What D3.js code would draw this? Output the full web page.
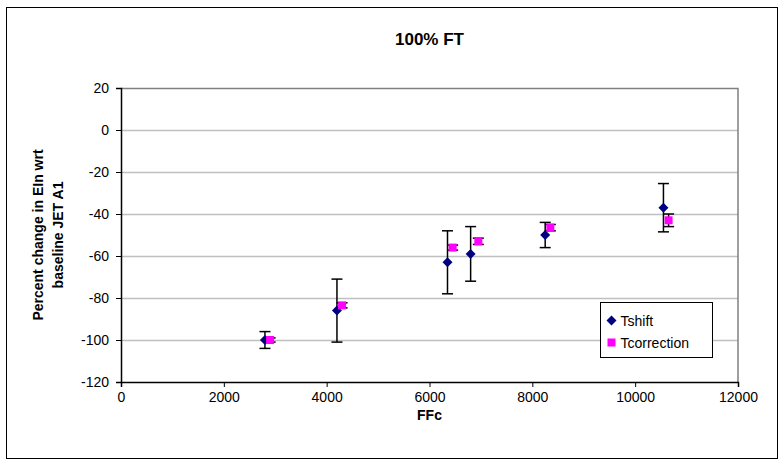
<!DOCTYPE html>
<html>
<head>
<meta charset="utf-8">
<script src="https://cdn.jsdelivr.net/npm/d3@7"></script>
<style>
  body { margin: 0; background: #fff; }
  svg { font-family: "Liberation Sans", Arial, sans-serif; }
</style>
</head>
<body>
<div id="chart"></div>
<script>
// Data
const tshiftX = [2800, 4200, 6350, 6800, 8250, 10550];
const tshiftY = [-100, -86, -63, -59, -50, -37];
const tshiftErr = [4, 15, 15, 13, 6, 11.5];

const tcorrX = [2900, 4300, 6450, 6950, 8350, 10650];
const tcorrY = [-100, -83.5, -56, -53, -46.5, -43];
const tcorrErr = [1, 1.2, 1.2, 1.5, 1.5, 3];

const xTicks = [0, 2000, 4000, 6000, 8000, 10000, 12000];
const yTicks = [20, 0, -20, -40, -60, -80, -100, -120];

const width = 782;
const height = 465;
const margin = { top: 88, right: 44, bottom: 83, left: 121 };
const innerWidth = width - margin.left - margin.right;
const innerHeight = height - margin.top - margin.bottom;

const svg = d3.select('#chart')
    .append('svg')
    .attr('width', width)
    .attr('height', height);

// Outer chart border
svg.append('rect')
    .attr('x', 6.5).attr('y', 7.5)
    .attr('width', 771).attr('height', 451)
    .attr('fill', '#fff')
    .attr('stroke', '#000')
    .attr('stroke-width', 1);

const chart = svg.append('g')
    .attr('transform', `translate(${margin.left},${margin.top})`);

const xScale = d3.scaleLinear().domain([0, 12000]).range([0, innerWidth]);
const yScale = d3.scaleLinear().domain([-120, 20]).range([innerHeight, 0]);

// Gridlines
chart.selectAll('.grid')
    .data(yTicks.filter(d => d !== 20 && d !== -120))
    .enter()
    .append('line')
    .attr('x1', 0).attr('x2', innerWidth)
    .attr('y1', d => Math.round(yScale(d)) + 0.5)
    .attr('y2', d => Math.round(yScale(d)) + 0.5)
    .attr('stroke', '#c0c0c0')
    .attr('stroke-width', 1.5);

// Plot area border (top and right)
chart.append('path')
    .attr('d', `M0,0.5H${innerWidth}V${innerHeight}`)
    .attr('fill', 'none')
    .attr('stroke', '#808080')
    .attr('stroke-width', 1.5);

// Axes (plain hyphen minus, like the original)
const fmt = d => String(d);
const xAxis = chart.append('g')
    .attr('transform', `translate(0,${innerHeight})`)
    .call(d3.axisBottom(xScale).tickValues(xTicks).tickSize(5).tickPadding(5).tickFormat(fmt));
const yAxis = chart.append('g')
    .call(d3.axisLeft(yScale).tickValues(yTicks).tickSize(5).tickPadding(7).tickFormat(fmt));

[xAxis, yAxis].forEach(ax => {
    ax.select('.domain').attr('stroke', '#000').attr('stroke-width', 1.5);
    ax.selectAll('.tick line').attr('stroke', '#000');
    ax.selectAll('.tick text')
        .attr('fill', '#000')
        .style('font-size', '14px')
        .style('font-family', '"Liberation Sans", Arial, sans-serif');
});

// Error bars
function errorBars(xs, ys, errs, capW) {
    const g = chart.append('g');
    xs.forEach((x, i) => {
        const cx = xScale(x);
        const yTop = yScale(ys[i] + errs[i]);
        const yBot = yScale(ys[i] - errs[i]);
        g.append('line')
            .attr('x1', cx).attr('x2', cx).attr('y1', yTop).attr('y2', yBot)
            .attr('stroke', '#000').attr('stroke-width', 1.5);
        [yTop, yBot].forEach(yy => {
            g.append('line')
                .attr('x1', cx - capW / 2).attr('x2', cx + capW / 2)
                .attr('y1', yy).attr('y2', yy)
                .attr('stroke', '#000').attr('stroke-width', 1.5);
        });
    });
}

const diamond = 'M0,-5L5,0L0,5L-5,0Z';

errorBars(tshiftX, tshiftY, tshiftErr, 11);
chart.selectAll('.tshift')
    .data(tshiftX.map((x, i) => [x, tshiftY[i]]))
    .enter()
    .append('path')
    .attr('d', diamond)
    .attr('transform', d => `translate(${xScale(d[0])},${yScale(d[1])})`)
    .attr('fill', '#000080');

errorBars(tcorrX, tcorrY, tcorrErr, 11);
chart.selectAll('.tcorr')
    .data(tcorrX.map((x, i) => [x, tcorrY[i]]))
    .enter()
    .append('rect')
    .attr('x', d => xScale(d[0]) - 4)
    .attr('y', d => yScale(d[1]) - 4)
    .attr('width', 8).attr('height', 8)
    .attr('fill', '#ff00ff');

// Legend
const legend = svg.append('g').attr('transform', 'translate(600.5,302.5)');
legend.append('rect')
    .attr('width', 112).attr('height', 55)
    .attr('fill', '#fff').attr('stroke', '#000').attr('stroke-width', 1);
legend.append('path').attr('d', diamond).attr('transform', 'translate(11,18)').attr('fill', '#000080');
legend.append('rect').attr('x', 7).attr('y', 36).attr('width', 8).attr('height', 8).attr('fill', '#ff00ff');
legend.append('text').attr('x', 20).attr('y', 23).style('font-size', '14px').text('Tshift');
legend.append('text').attr('x', 20).attr('y', 45).style('font-size', '14px').text('Tcorrection');

// Title
svg.append('text')
    .attr('x', margin.left + innerWidth / 2)
    .attr('y', 45)
    .attr('text-anchor', 'middle')
    .style('font-size', '17px')
    .style('font-weight', 'bold')
    .text('100% FT');

// X label
svg.append('text')
    .attr('x', margin.left + innerWidth / 2)
    .attr('y', 420)
    .attr('text-anchor', 'middle')
    .style('font-size', '14px')
    .style('font-weight', 'bold')
    .text('FFc');

// Y label (two lines)
const yl = svg.append('text')
    .attr('transform', `translate(43,${margin.top + innerHeight / 2}) rotate(-90)`)
    .attr('text-anchor', 'middle')
    .style('font-size', '14px')
    .style('font-weight', 'bold');
yl.append('tspan').attr('x', 0).attr('y', 0).text('Percent change in EIn wrt');
yl.append('tspan').attr('x', 0).attr('y', 20).text('baseline JET A1');
</script>
</body>
</html>
